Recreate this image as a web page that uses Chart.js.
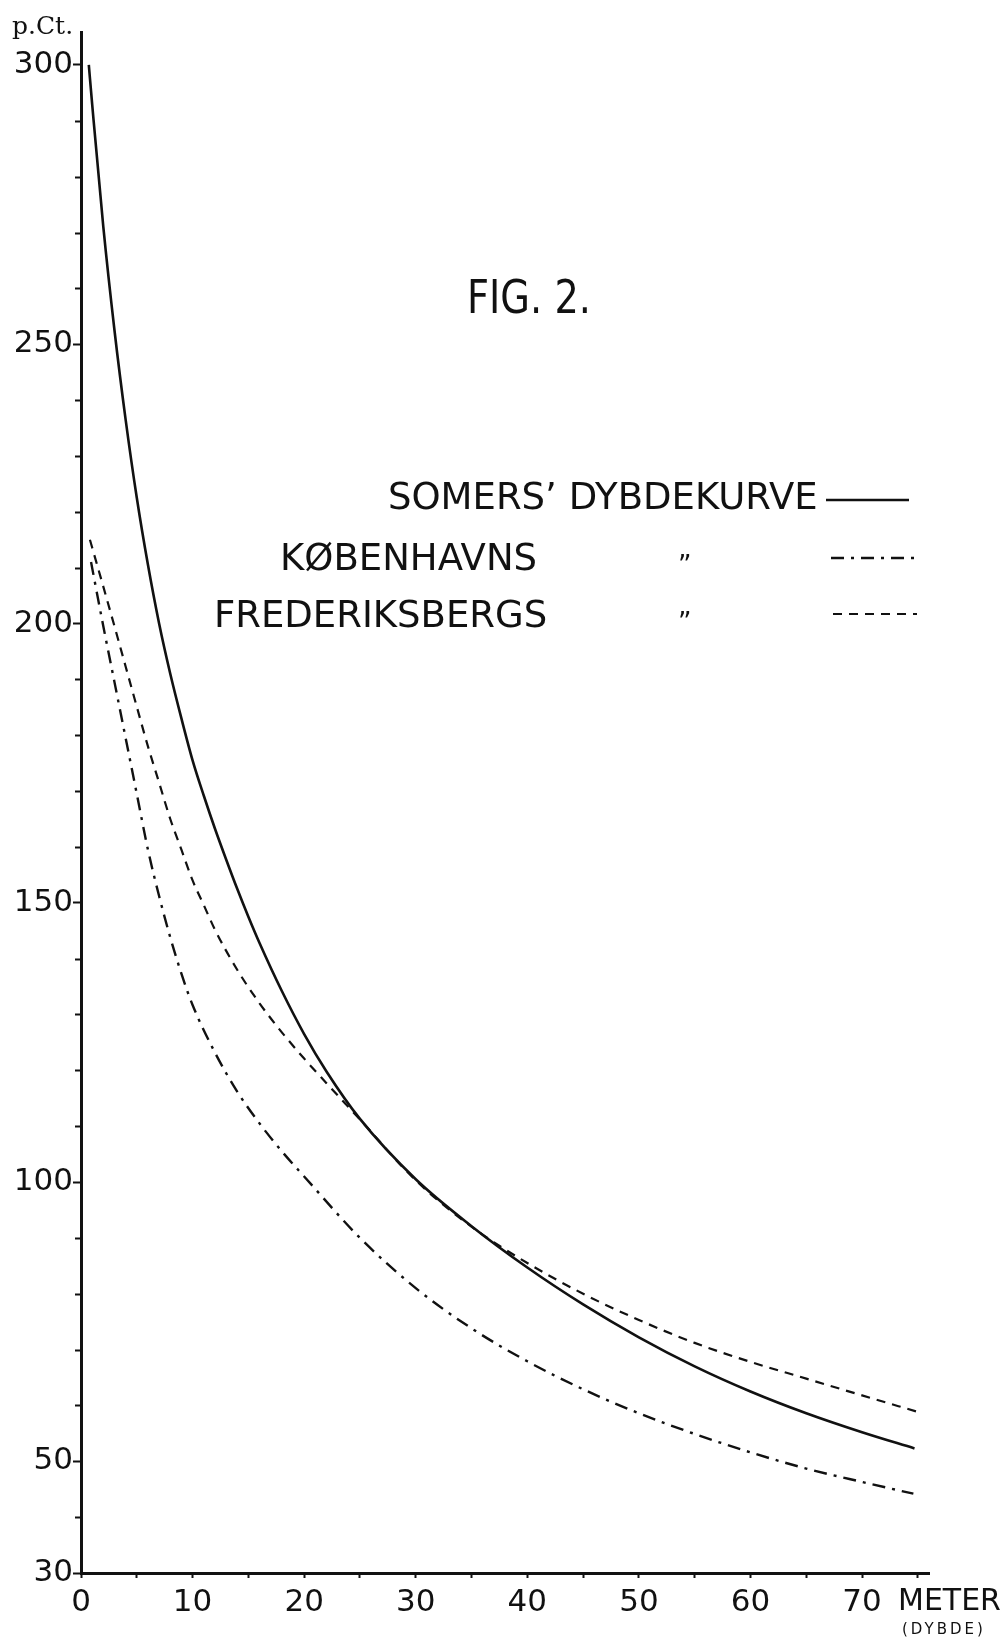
<!DOCTYPE html>
<html>
<head>
<meta charset="utf-8">
<title>FIG. 2.</title>
<script src="https://cdn.jsdelivr.net/npm/chart.js@4.4.1/dist/chart.umd.min.js"></script>
<style>
  html, body { margin: 0; padding: 0; background: #fff; }
  canvas { display: block; }
</style>
</head>
<body>
<canvas id="fig" width="1005" height="1639"></canvas>
<script>
// depth in meter, value in p.Ct.
const somersDepth = [0.7, 1, 2, 3, 4, 5, 6, 7, 8, 9, 10, 11, 12, 13, 14, 15, 16, 18, 20, 22, 25, 30, 35, 40, 45, 50, 55, 60, 65, 70, 74.7];
const somersPct   = [300, 293, 271, 252.5, 236.5, 222.5, 210.5, 200, 191, 183, 175.5, 169.2, 163.3, 157.8, 152.5, 147.5, 142.8, 134.2, 126.5, 119.8, 111.3, 100.5, 92.1, 84.7, 78.1, 72.2, 67, 62.5, 58.6, 55.2, 52.3];

const kbhDepth = [0.9, 2, 3, 4, 5, 6, 7, 8, 9, 10, 12, 14, 16, 18, 20, 25, 30, 35, 40, 45, 50, 55, 60, 65, 70, 74.6];
const kbhPct   = [211, 199.5, 189.5, 179.5, 169.5, 159.5, 151.2, 143.8, 137.3, 131.7, 123.2, 116.2, 110.5, 105.5, 101, 90, 81, 73.8, 67.9, 62.9, 58.6, 54.9, 51.6, 48.7, 46.3, 44.2];

const frbDepth = [0.8, 1, 2, 3, 4, 5, 6, 7, 8, 9, 10, 11, 12, 14, 16, 18, 20, 22, 25, 30, 35, 40, 45, 50, 55, 60, 65, 70, 74.9];
const frbPct   = [215, 213.6, 206.6, 199.5, 192.3, 185.1, 178, 171.5, 165, 159.5, 154, 149.6, 145.2, 138, 132, 126.8, 122.1, 117.7, 111.2, 100.3, 92, 85.5, 80, 75.3, 71.2, 67.8, 64.8, 61.8, 58.9];

const seriesNames = ["SOMERS’ DYBDEKURVE", "KØBENHAVNS", "FREDERIKSBERGS"];

const xTicks = [0, 5, 10, 15, 20, 25, 30, 35, 40, 45, 50, 55, 60, 65, 70, 75];
const xLabels = [0, 10, 20, 30, 40, 50, 60, 70];
const yLabels = [30, 50, 100, 150, 200, 250, 300];
const yMinor = [];
for (let v = 40; v < 300; v += 10) if (v % 50) yMinor.push(v);

const figTitle = "FIG. 2.";
const yUnit = "p.Ct.";
const xUnit = "METER";
const xUnitNote = "(DYBDE)";

const ink = "#111";

function points(xs, ys) {
  return xs.map((x, i) => ({ x: x, y: ys[i] }));
}

const minorTicks = {
  id: "minorTicks",
  afterDraw(chart) {
    const c = chart.ctx;
    const y = chart.scales.y;
    c.save();
    c.strokeStyle = ink;
    c.lineWidth = 2;
    yMinor.forEach(function (v) {
      const py = Math.round(y.getPixelForValue(v)) + 0.5;
      c.beginPath();
      c.moveTo(y.right - 6, py);
      c.lineTo(y.right, py);
      c.stroke();
    });
    c.restore();
  }
};

const paperText = {
  id: "paperText",
  afterDraw(chart) {
    const c = chart.ctx;
    c.save();
    c.fillStyle = ink;
    c.strokeStyle = ink;
    c.textAlign = "left";
    c.textBaseline = "alphabetic";

    c.font = "25px 'DejaVu Serif'";
    c.fillText(yUnit, 12, 34);

    // title, squeezed a little like the hand lettering
    c.font = "46px 'DejaVu Sans'";
    const tw = c.measureText(figTitle).width;
    c.save();
    c.translate(467, 313);
    c.scale(124 / tw, 1);
    c.fillText(figTitle, 0, 0);
    c.restore();

    // legend
    const rows = [
      { x: 388, base: 509, lineY: 500, x0: 826, x1: 909 },
      { x: 280, base: 570, lineY: 558, x0: 831, x1: 916 },
      { x: 214, base: 627, lineY: 614, x0: 833, x1: 917 }
    ];
    c.font = "37px 'DejaVu Sans'";
    chart.data.datasets.forEach(function (ds, i) {
      const r = rows[i];
      c.fillText(ds.label, r.x, r.base);
      if (i > 0) {
        c.save();
        c.font = "26px 'DejaVu Sans'";
        c.fillText("”", 678, r.base + 4);
        c.restore();
      }
      c.save();
      c.lineWidth = ds.borderWidth;
      c.setLineDash(ds.borderDash || []);
      c.beginPath();
      c.moveTo(r.x0, r.lineY);
      c.lineTo(r.x1, r.lineY);
      c.stroke();
      c.restore();
    });

    // axis unit at the right end of the depth axis
    c.font = "30px 'DejaVu Sans'";
    c.fillText(xUnit, 898, 1610);
    c.font = "15px 'DejaVu Sans'";
    c.letterSpacing = "3px";
    c.fillText(xUnitNote, 902, 1634);
    c.restore();
  }
};

const tickFont = { family: "'DejaVu Sans'", size: 31 };

new Chart(document.getElementById("fig"), {
  type: "scatter",
  data: {
    datasets: [
      {
        label: seriesNames[0],
        data: points(somersDepth, somersPct),
        borderColor: ink,
        borderWidth: 2.6,
        borderDash: []
      },
      {
        label: seriesNames[1],
        data: points(kbhDepth, kbhPct),
        borderColor: ink,
        borderWidth: 2.4,
        borderDash: [13, 7, 3, 7]
      },
      {
        label: seriesNames[2],
        data: points(frbDepth, frbPct),
        borderColor: ink,
        borderWidth: 2.2,
        borderDash: [9, 7]
      }
    ].map(function (ds) {
      return Object.assign(ds, {
        showLine: true,
        pointRadius: 0,
        fill: false,
        cubicInterpolationMode: "monotone"
      });
    })
  },
  options: {
    responsive: false,
    animation: false,
    layout: { padding: { top: 32, right: 76, left: 0, bottom: 0 } },
    plugins: {
      legend: { display: false },
      tooltip: { enabled: false },
      title: { display: false }
    },
    scales: {
      x: {
        type: "linear",
        min: 0,
        max: 76,
        afterFit(scale) { scale.height = 66; },
        afterBuildTicks(scale) { scale.ticks = xTicks.map(v => ({ value: v })); },
        ticks: {
          autoSkip: false,
          maxRotation: 0,
          padding: 6,
          color: ink,
          font: tickFont,
          callback: v => (xLabels.includes(v) ? String(v) : "")
        },
        grid: { drawOnChartArea: false, tickLength: 5, tickColor: ink, tickWidth: 2 },
        border: { color: ink, width: 3 }
      },
      y: {
        type: "linear",
        min: 30,
        max: 305.9,
        afterFit(scale) { scale.width = 81; },
        afterBuildTicks(scale) { scale.ticks = yLabels.map(v => ({ value: v })); },
        ticks: {
          autoSkip: false,
          padding: 0,
          color: ink,
          font: tickFont,
          callback: v => String(v)
        },
        grid: { drawOnChartArea: false, tickLength: 8, tickColor: ink, tickWidth: 2 },
        border: { color: ink, width: 3 }
      }
    }
  },
  plugins: [minorTicks, paperText]
});
</script>
</body>
</html>
